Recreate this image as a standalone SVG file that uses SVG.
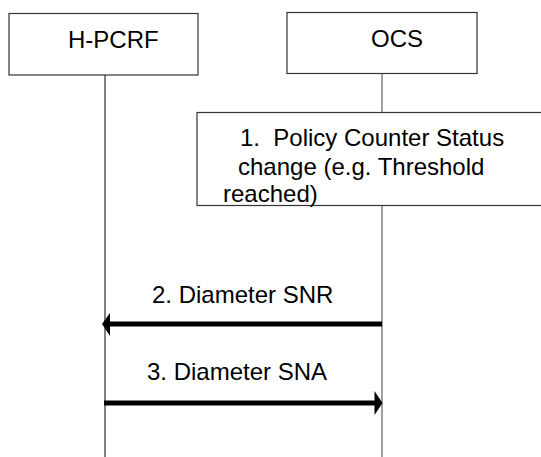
<svg xmlns="http://www.w3.org/2000/svg" width="541" height="457" viewBox="0 0 541 457">
<style>
.box{fill:#fff;stroke:#333;stroke-width:1.2}
.t{font-family:"Liberation Sans",Arial,sans-serif;font-size:24px;fill:#000;white-space:pre}
.msg{stroke:#000;stroke-width:5}
</style>
<rect width="541" height="457" fill="#fff"/>
<g id="lifelines">
<line x1="105" y1="75" x2="105" y2="457" stroke="#000" stroke-width="1"/>
<line x1="382" y1="74" x2="382" y2="457" stroke="#808080" stroke-width="1.5"/>
</g>
<g id="hpcrf">
<rect class="box" x="9" y="13.5" width="189" height="61.5"/>
<text class="t" x="68" y="48">H-PCRF</text>
</g>
<g id="ocs">
<rect class="box" x="287" y="12.5" width="190" height="61"/>
<text class="t" x="371" y="47">OCS</text>
</g>
<g id="step1">
<rect class="box" x="197" y="112.5" width="360" height="93"/>
<text class="t" x="240" y="146" xml:space="preserve">1.  Policy Counter Status</text>
<text class="t" x="238" y="175">change (e.g. Threshold</text>
<text class="t" x="223" y="202">reached)</text>
</g>
<g id="connectors">
<line class="msg" x1="382" y1="324" x2="108" y2="324"/>
<polygon points="102,324 110,313 110,336" fill="#000"/>
<text class="t" x="152" y="303">2. Diameter SNR</text>
<line class="msg" x1="104" y1="403" x2="376" y2="403"/>
<polygon points="382.5,403 374.5,391 374.5,415" fill="#000"/>
<text class="t" x="147" y="380">3. Diameter SNA</text>
</g>
</svg>
